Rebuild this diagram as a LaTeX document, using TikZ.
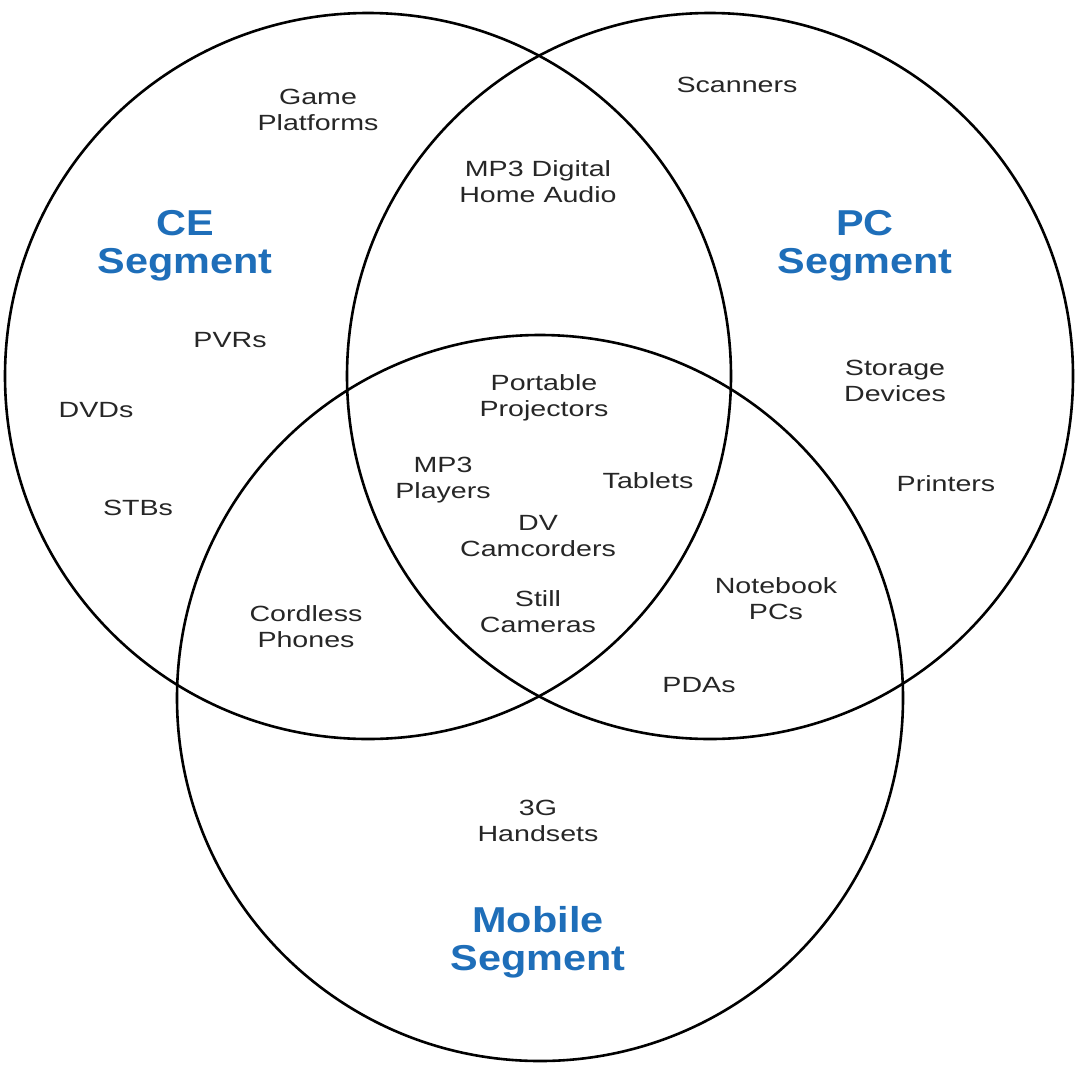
\documentclass[tikz,border=0pt]{standalone}
\usepackage{fontspec}
\setmainfont{Liberation Sans}
\newfontfamily\itemfont{Liberation Sans}[FakeStretch=1.3]
\newfontfamily\segfont{Liberation Sans}[FakeStretch=1.15]
\usetikzlibrary{positioning}
\definecolor{segblue}{RGB}{30,110,185}
\begin{document}
\begin{tikzpicture}[x=0.5pt, y=-0.5pt,
  ring/.style = {draw, line width=1.3pt},
  item/.style = {align=center, font=\itemfont\fontsize{11}{13}\selectfont, text=black!85},
  segment/.style = {align=center, font=\segfont\fontsize{18}{19}\selectfont\bfseries, text=segblue}
]
\useasboundingbox (0,0) rectangle (1080,1066);
\node[ring, circle, minimum size=726pt*0.5] (ce) at (368,376) {};
\node[ring, circle, minimum size=726pt*0.5] (pc) at (710,376) {};
\node[ring, circle, minimum size=726pt*0.5] (mob) at (540,698) {};
% segment titles
\node[segment] (ceT) at (185,246) {CE\\Segment};
\node[segment] (pcT) at (865,246) {PC\\Segment};
\node[segment] (mobT) at (538,942) {Mobile\\Segment};
% CE only
\node[item] (game) at (318,110) {Game\\Platforms};
\node[item] (pvr) at (230,340) {PVRs};
\node[item] (dvd) at (96,410) {DVDs};
\node[item] (stb) at (138,508) {STBs};
% PC only
\node[item] (scan) at (737,85) {Scanners};
\node[item] (stor) at (895,381) {Storage\\Devices};
\node[item] (prn) at (946,484) {Printers};
% overlaps
\node[item] (mp3h) at (538,182) {MP3 Digital\\Home Audio};
\node[item] (proj) at (544,398) {Portable\\Projectors};
\node[item] (mp3p) at (443,480) {MP3\\Players};
\node[item] (tab) at (648,481) {Tablets};
\node[item] (dv) at (538,536) {DV\\Camcorders};
\node[item] (still) at (538,612) {Still\\Cameras};
\node[item] (cord) at (306,627) {Cordless\\Phones};
\node[item] (note) at (776,599) {Notebook\\PCs};
\node[item] (pda) at (699,685) {PDAs};
% Mobile only
\node[item] (hand) at (538,821) {3G\\Handsets};
\end{tikzpicture}
\end{document}
